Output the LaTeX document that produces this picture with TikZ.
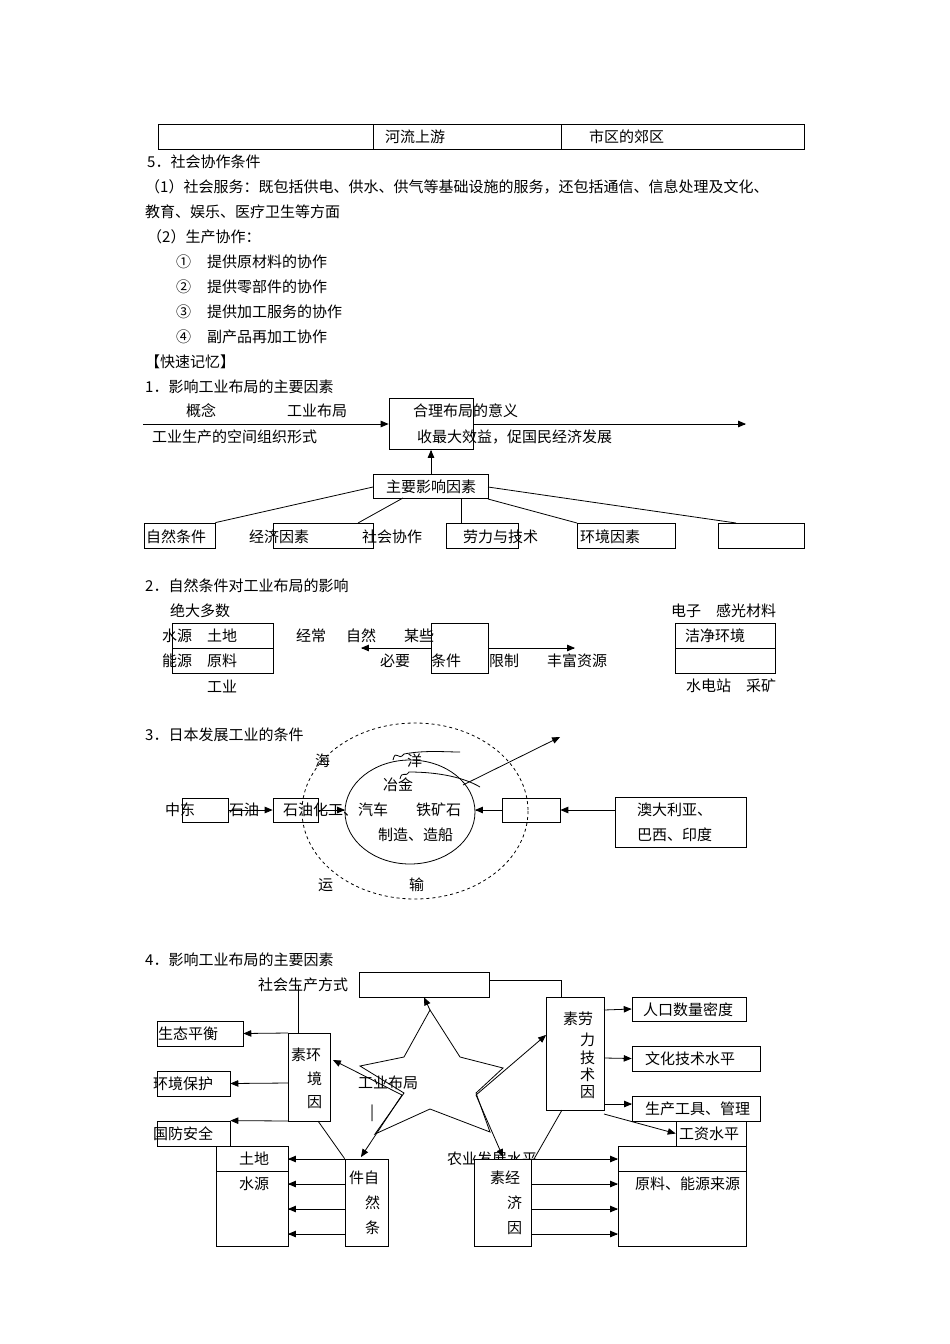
\documentclass[tikz,border=0pt]{standalone}
\usepackage{fontspec}
\setmainfont{Noto Sans CJK SC}
\usetikzlibrary{arrows,positioning,shapes}
\tikzset{
  txt/.style={anchor=west,inner sep=0pt,font=\fontsize{15}{17}\selectfont},
  ctxt/.style={inner sep=0pt,font=\fontsize{15}{17}\selectfont},
  arr/.style={-triangle 45,thick},
  ln/.style={thick}
}
\begin{document}
\begin{tikzpicture}[x=1pt,y=-1pt]
  \useasboundingbox[fill=white] (0,0) rectangle (950,1344);
  % table row
  \draw[ln] (158,124) rectangle (804,149) (373,124)--(373,149) (561,124)--(561,149);
  \node[txt] (up) at (385,137) {河流上游};
  \node[txt] (sub) at (589,137) {市区的郊区};
  \node[txt] (t5) at (147,162) {5．社会协作条件};
  \node[txt] (t51) at (145,187) {（1）社会服务：既包括供电、供水、供气等基础设施的服务，还包括通信、信息处理及文化、};
  \node[txt] (t52) at (145,212) {教育、娱乐、医疗卫生等方面};
  \node[txt] (t53) at (147,237) {（2）生产协作：};
  \foreach \y/\n/\s in {262/①/提供原材料的协作,287/②/提供零部件的协作,312/③/提供加工服务的协作,337/④/副产品再加工协作}{
    \node[txt] at (176,\y) {\n};
    \node[txt] at (207,\y) {\s};
  }
  \node[txt] (mem) at (145,362) {【快速记忆】};
  \node[txt] (s1) at (145,387) {1．影响工业布局的主要因素};

  % section 1
  \coordinate (a0) at (143,424);
  \node[draw,thick,minimum width=84pt,minimum height=51pt,inner sep=0pt] (mean) at (431,424) {};
  \draw[arr] (a0) -- (mean.west);
  \draw[arr] (mean.east) -- (746,424);
  \node[txt] at (186,411) {概念};
  \node[txt] at (287,411) {工业布局};
  \node[txt] at (152,437) {工业生产的空间组织形式};
  \node[txt] at (413,411) {合理布局的意义};
  \node[txt] at (417,437) {收最大效益，促国民经济发展};
  \node[draw,thick,minimum width=115pt,minimum height=24pt,inner sep=0pt] (main) at (431,486) {};
  \node[txt] at (386,487) {主要影响因素};
  \draw[arr] (main.north) -- (mean.south);
  \node[draw,thick,minimum width=71pt,minimum height=25pt] (b1) at (179.5,535.5) {};
  \node[draw,thick,minimum width=100pt,minimum height=25pt] (b2) at (323,535.5) {};
  \node[draw,thick,minimum width=72pt,minimum height=25pt] (b3) at (482,535.5) {};
  \node[draw,thick,minimum width=98pt,minimum height=25pt] (b4) at (626,535.5) {};
  \node[draw,thick,minimum width=86pt,minimum height=25pt] (b5) at (761,535.5) {};
  \draw[ln] (373,487) -- (b1.north east);
  \draw[ln] (403,498) -- (358,523);
  \draw[ln] (461,498) -- (461,523);
  \draw[ln] (488,499) -- (577,523);
  \draw[ln] (488,487) -- (736,523);
  \node[txt] at (146,537) {自然条件};
  \node[txt] at (249,537) {经济因素};
  \node[txt] at (362,537) {社会协作};
  \node[txt] at (463,537) {劳力与技术};
  \node[txt] at (580,537) {环境因素};

  % section 2
  \node[txt] (s2) at (145,586) {2．自然条件对工业布局的影响};
  \node[txt] at (170,611) {绝大多数};
  \draw[ln] (172,623) rectangle (273,673) (172,648)--(273,648);
  \node[txt] at (162,636) {水源\quad 土地};
  \node[txt] at (162,661) {能源\quad 原料};
  \node[txt] at (207,686) {工业};
  \node[txt] at (296,636) {经常};
  \node[txt] at (346,636) {自然};
  \node[txt] at (404,636) {某些};
  \node[draw,thick,minimum width=57pt,minimum height=50pt,inner sep=0pt] (cond) at (459.5,648) {};
  \coordinate (nat) at (361,648);
  \coordinate (rich) at (575,648);
  \draw[arr] (cond.west) -- (nat);
  \draw[arr] (cond.east) -- (rich);
  \node[txt] at (380,661) {必要};
  \node[txt] at (431,661) {条件};
  \node[txt] at (489,661) {限制};
  \node[txt] at (547,661) {丰富资源};
  \node[txt] at (671,611) {电子\quad 感光材料};
  \draw[ln] (675,623) rectangle (775,673) (675,648)--(775,648);
  \node[txt] at (685,636) {洁净环境};
  \node[txt] at (686,686) {水电站\quad 采矿};

  % section 3
  \node[txt] (s3) at (145,735) {3．日本发展工业的条件};
  \draw[thick,dashed] (415,811) ellipse (113 and 88);
  \draw[ln] (410,812) ellipse (65 and 52);
  \node[draw,thick,minimum width=46pt,minimum height=24pt] (me) at (205,810) {};
  \node[draw,thick,minimum width=45pt,minimum height=24pt] (pc) at (295.5,810) {};
  \node[draw,thick,minimum width=58pt,minimum height=24pt] (ore) at (531,810) {};
  \node[draw,thick,minimum width=131pt,minimum height=50pt] (aus) at (680.5,822) {};
  \coordinate (cl) at (345,810);
  \coordinate (cr) at (475,810);
  \draw[arr] (me.east) -- (pc.west);
  \draw[arr] (pc.east) -- (cl);
  \draw[arr] (ore.west) -- (cr);
  \draw[arr] (aus.west |- ore) -- (ore.east);
  \coordinate (out) at (560,737);
  \draw[arr] (463,785) -- (out);
  \draw[ln] (393,760) .. controls (396,748) and (398,762) .. (404,754) .. controls (425,750) and (445,752) .. (460,752);
  \draw[ln] (400,779) .. controls (402,770) and (405,778) .. (409,772) .. controls (440,772) and (465,778) .. (480,787);
  \node[txt] at (165,810) {中东};
  \node[txt] at (229,810) {石油};
  \node[txt] at (283,810) {石油化工、汽车};
  \node[txt] at (416,810) {铁矿石};
  \node[txt] at (383,785) {冶金};
  \node[txt] at (378,835) {制造、造船};
  \node[txt] at (315,761) {海};
  \node[txt] at (407,761) {洋};
  \node[txt] at (318,885) {运};
  \node[txt] at (409,885) {输};
  \node[txt] at (637,810) {澳大利亚、};
  \node[txt] at (637,835) {巴西、印度};

  % section 4
  \node[txt] (s4) at (145,960) {4．影响工业布局的主要因素};
  \node[draw,thick,minimum width=130pt,minimum height=25pt] (mode) at (424,984.5) {};
  \node[txt] at (258,985) {社会生产方式};
  \node[draw,thick,minimum width=42pt,minimum height=88pt] (env) at (309,1077) {};
  \node[draw,thick,minimum width=58pt,minimum height=113pt] (lab) at (575,1053.5) {};
  \draw[ln] (298,1033) -- (298,985);
  \draw[ln] (mode.east |- 0,980) -- (561,980) -- (561,997);
  \node[draw,thick,minimum width=86pt,minimum height=25pt] (eco1) at (200,1033.5) {};
  \node[draw,thick,minimum width=73pt,minimum height=25pt] (eco2) at (193.5,1083.5) {};
  \node[draw,thick,minimum width=73pt,minimum height=25pt] (def) at (193.5,1133.5) {};
  \draw[arr] (288,1033) -- (eco1.east);
  \draw[arr] (288,1083) -- (eco2.east);
  \draw[arr] (288,1121) -- (def.north east);
  \node[txt] at (158,1034) {生态平衡};
  \node[txt] at (153,1084) {环境保护};
  \node[txt] at (153,1134) {国防安全};
  \node[draw,thick,minimum width=114pt,minimum height=24pt] (pop) at (689,1009) {};
  \node[draw,thick,minimum width=128pt,minimum height=25pt] (cul) at (696,1058.5) {};
  \node[draw,thick,minimum width=128pt,minimum height=25pt] (tool) at (696,1108.5) {};
  \node[draw,thick,minimum width=70pt,minimum height=25pt] (wage) at (711,1133.5) {};
  \draw[arr] (604,1010) -- (pop.west);
  \draw[arr] (604,1058) -- (cul.west);
  \draw[arr] (604,1104) -- (632,1104);
  \draw[arr] (604,1114) -- (wage.west);
  \node[txt] at (643,1010) {人口数量密度};
  \node[txt] at (645,1059) {文化技术水平};
  \node[txt] at (645,1109) {生产工具、管理};
  \node[txt] at (679,1134) {工资水平};
  % nature
  \draw[ln] (216,1146) rectangle (288,1246) (216,1171)--(288,1171);
  \node[txt] at (239,1159) {土地};
  \node[txt] at (239,1184) {水源};
  \node[draw,thick,minimum width=43pt,minimum height=87pt] (natb) at (366.5,1202.5) {};
  \foreach \y in {1159,1184,1209,1234} \draw[arr] (345,\y) -- (288,\y);
  \draw[ln] (318,1121) -- (natb.north west);
  % economy
  \node[txt] at (447,1159) {农业发展水平};
  \node[draw,thick,fill=white,minimum width=57pt,minimum height=87pt] (ecob) at (502.5,1202.5) {};
  \draw[ln] (618,1146) rectangle (746,1246) (618,1171)--(746,1171);
  \node[txt] at (635,1184) {原料、能源来源};
  \foreach \y in {1159,1184,1209,1234} \draw[arr] (531,\y) -- (618,\y);
  \draw[ln] (562,1110) -- (534,1159);
  % star
  \draw[ln] (430,1010) -- (460,1057) -- (503,1068) -- (476,1093) -- (490,1132) -- (430,1109)
    -- (375,1134) -- (404,1093) -- (360,1066) -- (404,1057) -- cycle;
  \draw[arr] (430,1010) -- (mode.south);
  \draw[arr] (402,1095) -- (333,1060);
  \draw[arr] (402,1095) -- (361,1157);
  \draw[arr] (476,1095) -- (546,1035);
  \draw[arr] (476,1095) -- (503,1157);
  \node[txt] at (358,1083) {工业布局};
  \node[txt] at (370,1113) {|};
  % vertical labels
  \node[txt] at (291,1055) {素环};
  \node[txt] at (307,1079) {境};
  \node[txt] at (307,1102) {因};
  \node[txt] at (563,1019) {素劳};
  \foreach \y/\c in {1040/力,1058/技,1075/术,1092/因} \node[txt] at (580,\y) {\c};
  \node[txt] at (349,1178) {件自};
  \node[txt] at (365,1203) {然};
  \node[txt] at (365,1228) {条};
  \node[txt] at (490,1178) {素经};
  \node[txt] at (507,1203) {济};
  \node[txt] at (507,1228) {因};
\end{tikzpicture}
\end{document}
